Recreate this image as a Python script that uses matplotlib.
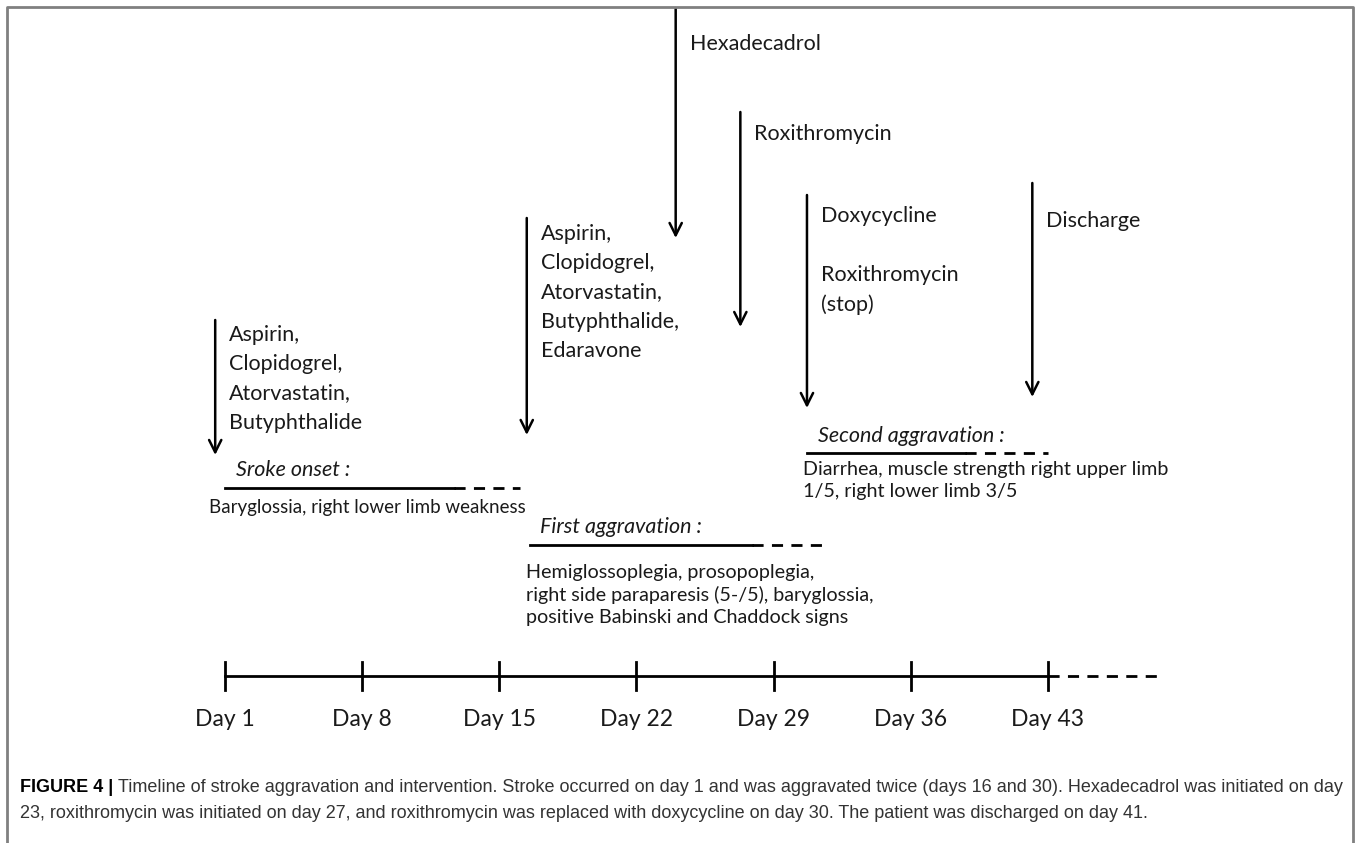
import matplotlib
matplotlib.use("Agg")
import matplotlib.pyplot as plt
from matplotlib.lines import Line2D

# timeline ticks (days)
tick_days = [1, 8, 15, 22, 29, 36, 43]
tick_labels = ["Day 1", "Day 8", "Day 15", "Day 22", "Day 29", "Day 36", "Day 43"]
timeline_end = 48.7  # dashed continuation

# interventions: day of arrow, label
arrow_days = [0.5, 16.4, 24.0, 27.3, 30.7, 42.2]
arrow_labels = [
    "Aspirin,\nClopidogrel,\nAtorvastatin,\nButyphthalide",
    "Aspirin,\nClopidogrel,\nAtorvastatin,\nButyphthalide,\nEdaravone",
    "Hexadecadrol",
    "Roxithromycin",
    "Doxycycline\n\nRoxithromycin\n(stop)",
    "Discharge",
]

# aggravation phases: start, end of solid part, end of dashed part
phase_titles = ["Sroke onset", "First aggravation", "Second aggravation"]
phase_start = [1.0, 16.55, 30.7]
phase_solid_end = [12.7, 27.9, 38.75]
phase_dash_end = [16.05, 31.65, 43.0]
phase_text = [
    "Baryglossia, right lower limb weakness",
    "Hemiglossoplegia, prosopoplegia,\nright side paraparesis (5-/5), baryglossia,\npositive Babinski and Chaddock signs",
    "Diarrhea, muscle strength right upper limb\n1/5, right lower limb 3/5",
]

caption_head = "FIGURE 4 |"
caption_body = ("Timeline of stroke aggravation and intervention. Stroke occurred on day 1 and was "
                "aggravated twice (days 16 and 30). Hexadecadrol was initiated on day")
caption_body2 = ("23, roxithromycin was initiated on day 27, and roxithromycin was replaced with "
                 "doxycycline on day 30. The patient was discharged on day 41.")

W, H = 1360, 843
px_per_day = 19.595
x0 = 1 - 225 / px_per_day
x1 = x0 + W / px_per_day

plt.rcParams["font.family"] = ["Lato", "DejaVu Sans"]
fig = plt.figure(figsize=(W / 100, H / 100), dpi=100)
ax = fig.add_axes([0, 0, 1, 1])
ax.set_xlim(x0, x1)
ax.set_ylim(H, 0)
ax.axis("off")

ink = "#1a1a1a"

# frame (left, top, right)
fig.add_artist(Line2D([7 / W, 7 / W, 1353 / W, 1353 / W], [0, 1 - 7 / H, 1 - 7 / H, 0],
                      transform=fig.transFigure, color="#808080", lw=2))

# timeline
y_line = 676
ax.plot([tick_days[0], tick_days[-1]], [y_line, y_line], color="black", lw=2)
ax.plot([tick_days[-1], timeline_end], [y_line, y_line], color="black", lw=2,
        dashes=(4, 3))
for d, lab in zip(tick_days, tick_labels):
    ax.plot([d, d], [y_line - 14, y_line + 14], color="black", lw=2)
    ax.text(d, 720, lab, ha="center", va="center", fontsize=16.5, color=ink)

# arrows: top, bottom, text y (top of first line)
arrow_top = [320, 218, 8, 112, 195, 183]
arrow_bot = [455, 435, 238, 327, 408, 397]
text_top = [325, 224, 34, 124, 206, 211]
for d, lab, yt, yb, ty in zip(arrow_days, arrow_labels, arrow_top, arrow_bot, text_top):
    ax.annotate("", xy=(d, yb), xytext=(d, yt),
                arrowprops=dict(arrowstyle="->", lw=1.8, color="black",
                                mutation_scale=22, shrinkA=0, shrinkB=0))
    ax.text(d + 0.72, ty, lab, ha="left", va="top", fontsize=15.5, color=ink,
            linespacing=1.58)

# phases
title_y = [470, 527, 436]
rule_y = [488, 545, 453]
desc_y = [508, 564, 461]
desc_x = [8.27, 16.35, 30.5]
desc_size = [13.5, 14.2, 14.2]
for i in range(3):
    ax.plot([phase_start[i], phase_solid_end[i]], [rule_y[i], rule_y[i]], color="black", lw=2)
    ax.plot([phase_solid_end[i], phase_dash_end[i]], [rule_y[i], rule_y[i]], color="black",
            lw=2, dashes=(4, 3))
    ax.text(phase_start[i] + 0.55, title_y[i], phase_titles[i] + " :", ha="left", va="center",
            fontsize=15.5, style="italic", color=ink)
    if i == 0:
        ax.text(desc_x[i], desc_y[i], phase_text[i], ha="center", va="center",
                fontsize=desc_size[i], color=ink)
    else:
        ax.text(desc_x[i], desc_y[i], phase_text[i], ha="left", va="top",
                fontsize=desc_size[i], color=ink, linespacing=1.33)

# caption
cap_font = ["Liberation Sans Narrow", "Liberation Sans", "DejaVu Sans"]
t = fig.text(20 / W, 1 - 787 / H, caption_head, ha="left", va="center", fontsize=13,
             fontweight="bold", family=cap_font, color="black")
fig.canvas.draw()
bb = t.get_window_extent()
fig.text((bb.x1 + 5) / W, 1 - 787 / H, caption_body, ha="left", va="center", fontsize=13,
         family=cap_font, color="#333333")
fig.text(20 / W, 1 - 813 / H, caption_body2, ha="left", va="center", fontsize=13,
         family=cap_font, color="#333333")

fig.savefig("out.png", dpi=100)
